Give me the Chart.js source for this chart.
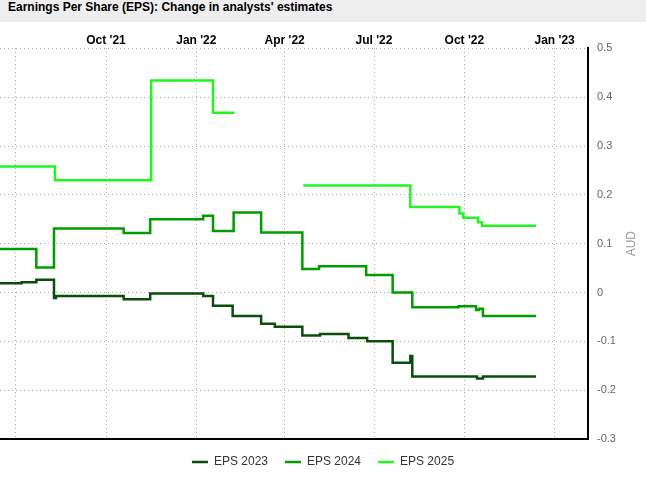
<!DOCTYPE html>
<html>
<head>
<meta charset="utf-8">
<script src="https://cdn.jsdelivr.net/npm/chart.js@4.4.1/dist/chart.umd.min.js"></script>
<style>
    html, body { margin: 0; padding: 0; background: #fff; overflow: hidden; }
    #chart-title {
        height: 22px;
        line-height: 22px;
        padding-left: 8px;
        background: #eeeeee;
        color: #000;
        font: bold 12px Arial, "Liberation Sans", sans-serif;
        white-space: nowrap;
    }
</style>
</head>
<body>
<div id="chart-title">Earnings Per Share (EPS): Change in analysts' estimates</div>
<canvas id="eps-chart" width="646" height="456"></canvas>
<script>
// quarter ticks on the top axis
var quarterDates = ['2021-07-01', '2021-10-01', '2022-01-01', '2022-04-01', '2022-07-01', '2022-10-01', '2023-01-01'];
var quarterLabels = ['', "Oct '21", "Jan '22", "Apr '22", "Jul '22", "Oct '22", "Jan '23"];

// each value holds from its date until the next date
var eps2023Dates = ['2021-06-01', '2021-07-07', '2021-07-22', '2021-08-09', '2021-08-11', '2021-10-19', '2021-11-15',
    '2022-01-08', '2022-01-18', '2022-02-07', '2022-03-08', '2022-03-22', '2022-04-19', '2022-05-07', '2022-06-05',
    '2022-06-24', '2022-07-20', '2022-08-07', '2022-08-09', '2022-10-14', '2022-10-20', '2022-12-13'];
var eps2023Values = [0.019, 0.021, 0.026, -0.011, -0.007, -0.014, -0.002,
    -0.007, -0.027, -0.048, -0.064, -0.070, -0.088, -0.085, -0.093,
    -0.100, -0.144, -0.130, -0.172, -0.176, -0.172, -0.172];

var eps2024Dates = ['2021-06-01', '2021-07-22', '2021-08-09', '2021-10-19', '2021-11-15', '2022-01-08', '2022-01-18',
    '2022-02-08', '2022-03-08', '2022-04-19', '2022-05-06', '2022-06-23', '2022-07-20', '2022-08-09', '2022-09-25',
    '2022-10-13', '2022-10-16', '2022-10-20', '2022-12-13'];
var eps2024Values = [0.089, 0.051, 0.131, 0.122, 0.150, 0.157, 0.126,
    0.164, 0.123, 0.048, 0.054, 0.036, 0.000, -0.030, -0.028,
    -0.036, -0.033, -0.048, -0.048];

var eps2025Dates = ['2021-06-01', '2021-08-10', '2021-11-16', '2022-01-18', '2022-02-09', '2022-03-01', '2022-04-20',
    '2022-08-07', '2022-09-26', '2022-09-30', '2022-10-15', '2022-10-19', '2022-12-13'];
var eps2025Values = [0.258, 0.230, 0.434, 0.368, 0.368, null, 0.219,
    0.175, 0.162, 0.153, 0.144, 0.137, 0.137];

var seriesLabels = ['EPS 2023', 'EPS 2024', 'EPS 2025'];
var seriesColors = ['#0b4d0b', '#009c00', '#22f522'];

function toTime(d) {
    return Date.parse(d + 'T00:00:00Z');
}

function toPoints(dates, values) {
    return dates.map(function(d, i) {
        return {x: toTime(d), y: values[i]};
    });
}

var xMin = toTime('2021-06-15');
var xMax = toTime('2023-02-04');
var quarterTimes = quarterDates.map(toTime);

Chart.defaults.font.family = 'Arial, "Liberation Sans", sans-serif';

//Rotated unit label right of the value axis
var unitTitle = {
    id: 'unitTitle',
    afterDraw: function(chart) {
        var ctx = chart.ctx;
        var area = chart.chartArea;
        ctx.save();
        ctx.translate(area.right + 44, (area.top + area.bottom) / 2);
        ctx.rotate(-Math.PI / 2);
        ctx.font = '12px Arial, "Liberation Sans", sans-serif';
        ctx.fillStyle = '#999';
        ctx.textAlign = 'center';
        ctx.textBaseline = 'middle';
        ctx.fillText('AUD', 0, 0);
        ctx.restore();
    }
};

function makeDataset(i, dates, values) {
    return {
        label: seriesLabels[i],
        data: toPoints(dates, values),
        borderColor: seriesColors[i],
        backgroundColor: seriesColors[i],
        borderWidth: 2.5,
        pointRadius: 0,
        stepped: true,
        fill: false,
        spanGaps: false,
    };
}

var epsChart = new Chart(document.getElementById('eps-chart'), {
    type: 'line',
    data: {
        datasets: [
            makeDataset(0, eps2023Dates, eps2023Values),
            makeDataset(1, eps2024Dates, eps2024Values),
            makeDataset(2, eps2025Dates, eps2025Values),
        ]
    },
    options: {
        responsive: false,
        animation: false,
        events: [],
        layout: {padding: {top: 10, left: 0, right: 0, bottom: 0}},
        scales: {
            x: {
                type: 'linear',
                position: 'top',
                min: xMin,
                max: xMax,
                afterBuildTicks: function(axis) {
                    axis.ticks = quarterTimes.map(function(v) { return {value: v}; });
                },
                ticks: {
                    autoSkip: false,
                    maxRotation: 0,
                    padding: 1,
                    color: '#000',
                    font: {size: 12, weight: 'bold'},
                    callback: function(value, index) {
                        return quarterLabels[index];
                    }
                },
                grid: {color: '#aaa', drawTicks: false},
                border: {display: false, dash: [1, 3]},
            },
            xBottom: {
                type: 'linear',
                position: 'bottom',
                min: xMin,
                max: xMax,
                ticks: {display: false},
                grid: {display: false, drawTicks: false},
                border: {color: '#000', width: 2},
            },
            y: {
                position: 'right',
                min: -0.3,
                max: 0.5,
                afterFit: function(axis) {
                    axis.width = 58;
                },
                ticks: {stepSize: 0.1, padding: 9, color: '#666', font: {size: 11}},
                grid: {color: '#aaa', drawTicks: false},
                border: {color: '#000', width: 2, dash: [1, 3]},
            }
        },
        plugins: {
            tooltip: {enabled: false},
            legend: {
                position: 'bottom',
                labels: {
                    usePointStyle: true,
                    pointStyle: 'line',
                    pointStyleWidth: 16,
                    padding: 17,
                    color: '#333',
                    font: {size: 12},
                }
            }
        }
    },
    plugins: [unitTitle]
});
</script>
</body>
</html>
